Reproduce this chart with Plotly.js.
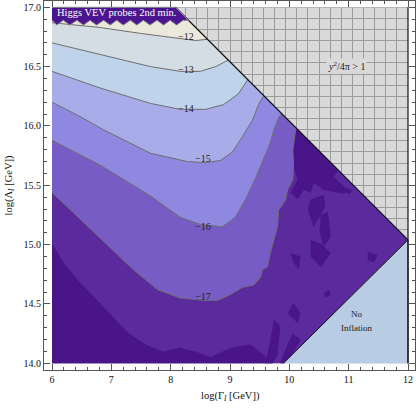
<!DOCTYPE html>
<html>
<head>
<meta charset="utf-8">
<script src="https://cdn.plot.ly/plotly-3.0.1.min.js"></script>
<style>
  html, body { margin: 0; padding: 0; background: #fff; }
  #chart { width: 416px; height: 409px; }
</style>
</head>
<body>
<div id="chart"></div>
<script>
// contour lines, x = log(Gamma_I), y = log(Lambda_I)
// each one runs from the left edge to the y^2/4pi = 1 boundary
var c12x = [6.00, 6.81, 7.49, 8.08, 8.42, 8.62];
var c12y = [16.87, 16.83, 16.78, 16.74, 16.72, 16.73];
var c13x = [6.00, 6.81, 7.66, 8.16, 8.50, 8.76, 8.97];
var c13y = [16.70, 16.60, 16.50, 16.46, 16.46, 16.50, 16.555];
var c14x = [6.00, 6.81, 7.66, 8.16, 8.59, 8.89, 9.14, 9.30];
var c14y = [16.46, 16.32, 16.19, 16.14, 16.14, 16.18, 16.27, 16.39];
var c15x = [6.00, 6.47, 6.86, 7.66, 8.28, 8.59, 8.84, 9.04, 9.21, 9.38, 9.48, 9.57];
var c15y = [16.20, 16.08, 15.97, 15.77, 15.70, 15.69, 15.71, 15.78, 15.91, 16.05, 16.18, 16.255];
var c16x = [6.00, 6.81, 7.66, 8.16, 8.50, 8.87, 9.09, 9.26, 9.43, 9.55, 9.68, 9.74, 9.82, 9.87];
var c16y = [15.88, 15.67, 15.41, 15.23, 15.17, 15.15, 15.23, 15.38, 15.56, 15.71, 15.86, 15.97, 16.07, 16.105];
var c17x = [6.00, 6.81, 7.37, 7.78, 8.16, 8.59, 8.79, 9.01, 9.21, 9.40, 9.51, 9.55, 9.63, 9.68, 9.74, 9.80, 9.82, 9.94, 9.97, 10.06, 10.07, 10.06, 10.09, 10.11];
var c17y = [15.44, 15.06, 14.79, 14.62, 14.55, 14.53, 14.53, 14.58, 14.64, 14.66, 14.72, 14.79, 14.81, 14.93, 15.04, 15.15, 15.29, 15.38, 15.46, 15.55, 15.67, 15.80, 15.91, 15.985];
// darkest band (below about -18), lower left part
var c18x = [6.00, 6.22, 6.44, 6.73, 6.98, 7.28, 7.57, 7.86, 8.16, 8.42, 8.67, 9.01, 9.35, 9.60, 9.72, 6.00];
var c18y = [15.01, 14.83, 14.70, 14.55, 14.42, 14.26, 14.16, 14.10, 14.13, 14.10, 14.05, 14.13, 14.16, 14.06, 14.00, 14.00];

// scattered darkest patches near the edge
var patchX = [
  [10.12, 10.82, 10.75, 10.92, 11.04, 10.87, 10.58, 10.41, 10.36, 10.24, 10.14, 10.02, 10.14, 10.07, 10.06, 10.09],
  [10.36, 10.58, 10.61, 10.41, 10.31],
  [10.53, 10.65, 10.70, 10.58, 10.51],
  [10.36, 10.53, 10.70, 10.53, 10.36],
  [10.02, 10.19, 10.16, 10.07],
  [11.32, 11.49, 11.43, 11.32],
  [10.95, 11.07, 11.00],
  [9.97, 10.07, 10.19, 10.14],
  [10.58, 10.67, 10.70, 10.61],
  [9.74, 9.85, 9.80, 9.72, 9.60, 9.68],
  [10.06, 10.19, 10.02, 9.90, 9.84, 9.97]
];
var patchY = [
  [15.98, 15.62, 15.57, 15.49, 15.44, 15.43, 15.46, 15.52, 15.44, 15.46, 15.38, 15.44, 15.55, 15.65, 15.80, 15.92],
  [15.38, 15.42, 15.32, 15.15, 15.29],
  [15.25, 15.28, 15.07, 14.98, 15.10],
  [15.04, 15.01, 14.93, 14.81, 14.90],
  [14.93, 14.90, 14.79, 14.85],
  [14.94, 14.91, 14.85, 14.87],
  [15.48, 15.46, 15.42],
  [14.42, 14.51, 14.42, 14.34],
  [14.59, 14.62, 14.58, 14.55],
  [14.37, 14.31, 14.07, 14.00, 14.00, 14.20],
  [14.25, 14.20, 14.05, 14.00, 14.00, 14.16]
];

// y^2/4pi = 1 edge and the no-inflation corner
var edgeX = [8.08, 12];
var edgeY = [17, 15.04];
var noInfX = [9.9, 12, 12];
var noInfY = [14, 15.04, 14];

// "Higgs VEV probes 2nd min." strip with its zigzag edge
var bannerX = [6, 8.08, 8.30, 8.21, 8.10, 7.99, 7.88, 7.77, 7.65, 7.54, 7.43, 7.32, 7.20, 7.09, 6.98, 6.87, 6.75, 6.64, 6.53, 6.42, 6.30, 6.19, 6.08, 6];
var bannerY = [17, 17, 16.89, 16.89, 16.85, 16.89, 16.85, 16.89, 16.85, 16.89, 16.85, 16.89, 16.85, 16.89, 16.85, 16.89, 16.85, 16.89, 16.85, 16.89, 16.85, 16.89, 16.85, 16.89];

var font = 'Liberation Serif, Times New Roman, serif';
var lineCol = '#6e6e6e';

function band(cx, cy, color) {
  return {
    x: cx.concat([edgeX[0], 6]), y: cy.concat([17, 17]),
    mode: 'lines', fill: 'toself', fillcolor: color,
    line: {width: 0}, hoverinfo: 'skip'
  };
}
function contourLine(cx, cy) {
  return {x: cx, y: cy, mode: 'lines', line: {color: lineCol, width: 1}, hoverinfo: 'skip'};
}

var px = [], py = [];
patchX.forEach(function (p, i) {
  px = px.concat(p, [null]);
  py = py.concat(patchY[i], [null]);
});

var xr = [5.865, 12.118];
var yr = [13.9435, 17.053];

var data = [
  // white frame padding outside the data box (covers the hatching grid)
  {x: [5, 6, 6, 5, null, 12, 13, 13, 12, null, 5, 13, 13, 5, null, 5, 13, 13, 5],
   y: [13, 13, 18, 18, null, 13, 13, 18, 18, null, 13, 13, 14, 14, null, 17, 17, 18, 18],
   mode: 'lines', fill: 'toself', fillcolor: '#ffffff', line: {width: 0}, hoverinfo: 'skip'},
  {x: [null], y: [null], xaxis: 'x2', yaxis: 'y2', mode: 'markers', hoverinfo: 'skip'},
  // allowed region, base colour
  {x: [6].concat(edgeX, [noInfX[0], 6]), y: [17].concat(edgeY, [14, 14]),
   mode: 'lines', fill: 'toself', fillcolor: '#5b2b9d', line: {width: 0}, hoverinfo: 'skip'},
  {x: c18x, y: c18y, mode: 'lines', fill: 'toself', fillcolor: '#4a1589', line: {width: 0}, hoverinfo: 'skip'},
  {x: px, y: py, mode: 'lines', fill: 'toself', fillcolor: '#4a1589', line: {width: 0}, hoverinfo: 'skip'},
  band(c17x, c17y, '#785cc6'),
  band(c16x, c16y, '#8e88e1'),
  band(c15x, c15y, '#a8adea'),
  band(c14x, c14y, '#bfd3ea'),
  band(c13x, c13y, '#d4dde4'),
  band(c12x, c12y, '#ebe9dc'),
  contourLine(c12x, c12y),
  contourLine(c13x, c13y),
  contourLine(c14x, c14y),
  contourLine(c15x, c15y),
  contourLine(c16x, c16y),
  contourLine(c17x, c17y),
  // no inflation
  {x: noInfX, y: noInfY, mode: 'lines', fill: 'toself', fillcolor: '#b8cce4',
   line: {color: '#111', width: 1}, hoverinfo: 'skip'},
  // boundaries
  {x: edgeX.concat([12, null, 12, 12]), y: edgeY.concat([15.04, null, 14, 17]),
   mode: 'lines', line: {color: '#111', width: 1.2}, hoverinfo: 'skip'},
  {x: bannerX, y: bannerY, mode: 'lines', fill: 'toself', fillcolor: '#4b1590',
   line: {color: '#8a8a8a', width: 1}, hoverinfo: 'skip'}
];

function lab(text, x, y) {
  return {text: text, x: x, y: y, xref: 'x', yref: 'y', showarrow: false,
          font: {family: font, size: 10, color: '#222'}};
}

var layout = {
  width: 416, height: 409,
  margin: {l: 44, r: 1, t: 1, b: 39},
  paper_bgcolor: '#ffffff',
  plot_bgcolor: '#d9d9d9',
  showlegend: false,
  hovermode: false,
  xaxis: {
    range: xr, tick0: 6, dtick: 1, ticks: 'inside', ticklen: 6, tickcolor: '#555',
    showline: true, linecolor: '#555', linewidth: 1, mirror: 'ticks',
    showgrid: false, zeroline: false,
    tickfont: {family: font, size: 10, color: '#111'},
    minor: {tick0: 6, dtick: 0.2, ticks: 'inside', ticklen: 3, tickcolor: '#555', showgrid: false}
  },
  yaxis: {
    range: yr, tick0: 14, dtick: 0.5, tickformat: '.1f', ticks: 'inside', ticklen: 6, tickcolor: '#555',
    showline: true, linecolor: '#555', linewidth: 1, mirror: 'ticks',
    showgrid: false, zeroline: false,
    tickfont: {family: font, size: 10, color: '#111'},
    minor: {tick0: 14, dtick: 0.1, ticks: 'inside', ticklen: 3, tickcolor: '#555', showgrid: false}
  },
  // hatching of the y^2/4pi > 1 region
  xaxis2: {overlaying: 'x', anchor: 'y2', range: xr, tick0: 6, dtick: 0.1875,
           showgrid: true, gridcolor: '#9c9c9c', gridwidth: 1,
           showticklabels: false, ticks: '', showline: false, zeroline: false},
  yaxis2: {overlaying: 'y', anchor: 'x2', range: yr, tick0: 14, dtick: 0.09375,
           showgrid: true, gridcolor: '#9c9c9c', gridwidth: 1,
           showticklabels: false, ticks: '', showline: false, zeroline: false},
  annotations: [
    lab('\u221212', 8.26, 16.75),
    lab('\u221213', 8.26, 16.472),
    lab('\u221214', 8.26, 16.151),
    lab('\u221215', 8.55, 15.73),
    lab('\u221216', 8.55, 15.149),
    lab('\u221217', 8.55, 14.56),
    {text: 'Higgs VEV probes 2nd min.', x: 7.1, y: 16.952, xref: 'x', yref: 'y', showarrow: false,
     font: {family: font, size: 10.5, color: '#ffffff'}},
    {text: '<i>y</i><sup>2</sup>/4\u03c0 > 1', x: 10.97, y: 16.505, xref: 'x', yref: 'y', showarrow: false,
     bgcolor: '#d9d9d9', font: {family: font, size: 10, color: '#222'}},
    {text: 'No', x: 11.14, y: 14.416, xref: 'x', yref: 'y', showarrow: false,
     font: {family: font, size: 9, color: '#222'}},
    {text: 'Inflation', x: 11.14, y: 14.298, xref: 'x', yref: 'y', showarrow: false,
     font: {family: font, size: 9, color: '#222'}},
    {text: 'log(\u0393<sub><i>I</i></sub> [GeV])', x: 9.0, y: -0.073, xref: 'x', yref: 'paper',
     yanchor: 'middle', showarrow: false, font: {family: font, size: 10.5, color: '#111'}},
    {text: 'log(\u039b<sub><i>I</i></sub> [GeV])', x: -0.094, y: 15.5, xref: 'paper', yref: 'y',
     textangle: -90, xanchor: 'center', showarrow: false, font: {family: font, size: 10.5, color: '#111'}}
  ]
};

Plotly.newPlot('chart', data, layout, {displayModeBar: false, staticPlot: true});
</script>
</body>
</html>
